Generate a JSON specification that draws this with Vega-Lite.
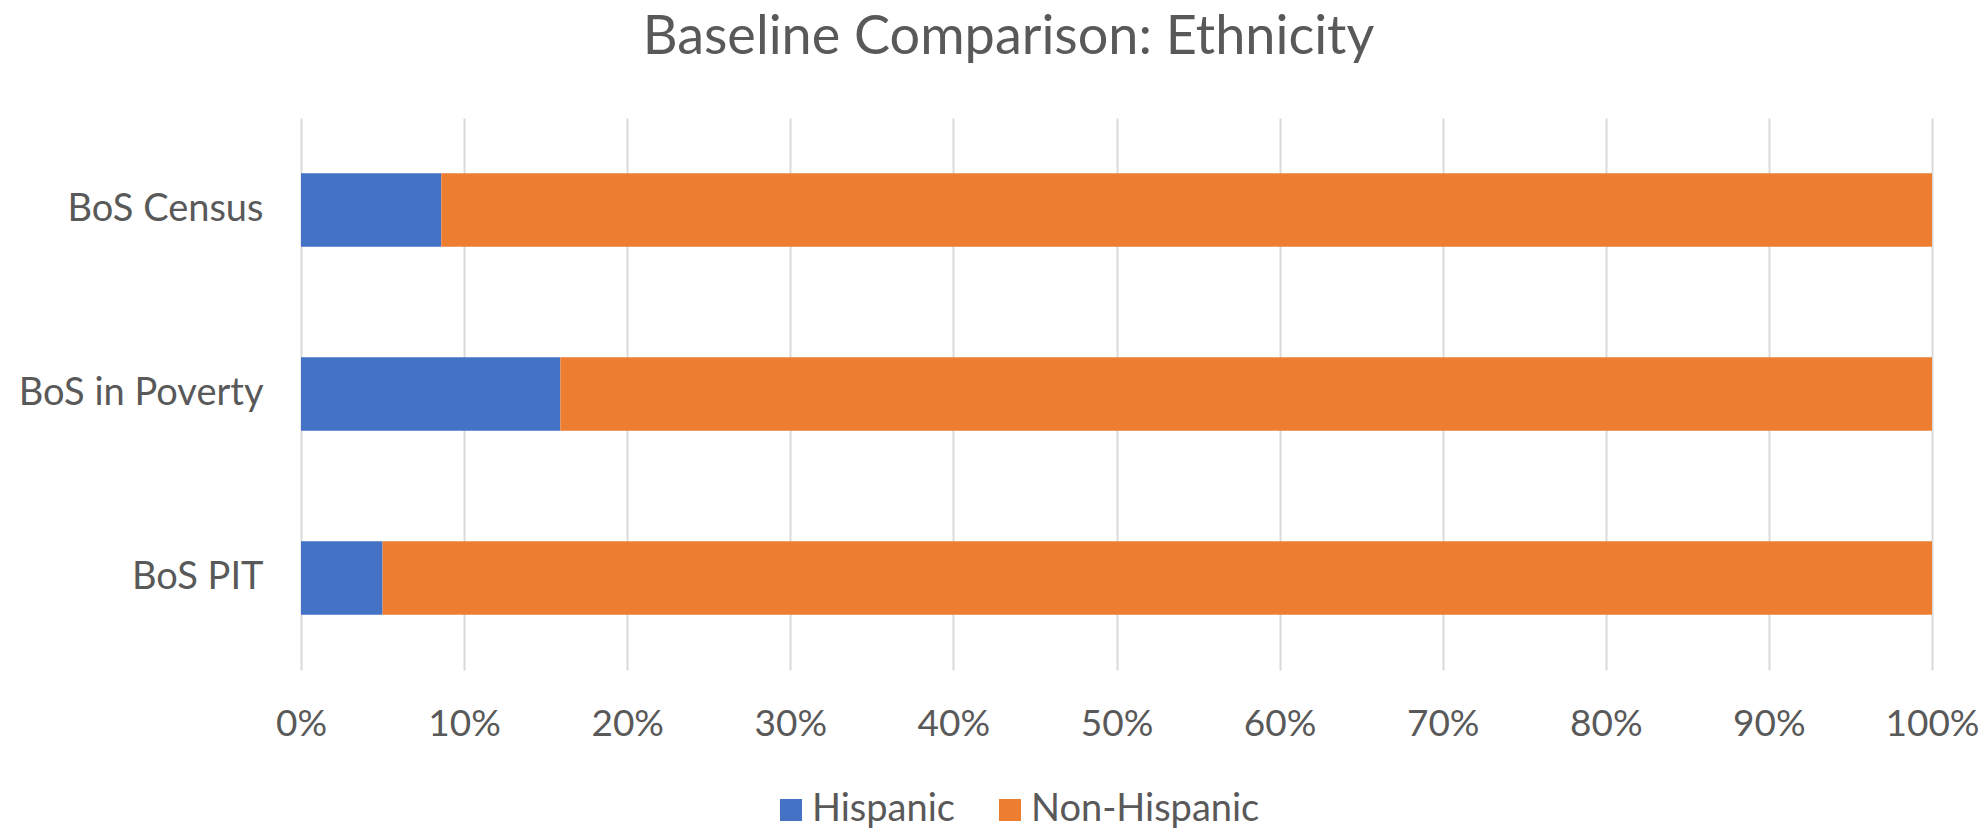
{
  "$schema": "https://vega.github.io/schema/vega-lite/v6.json",
  "autosize": "none",
  "width": 1631,
  "height": 552,
  "padding": {"left": 301, "top": 118, "right": 56, "bottom": 161},
  "background": "white",
  "title": {
    "text": "Baseline Comparison: Ethnicity",
    "font": "Lato",
    "fontSize": 54,
    "fontWeight": "normal",
    "color": "#595959",
    "anchor": "middle",
    "baseline": "alphabetic",
    "offset": 10,
    "dx": -108
  },
  "data": {
    "values": [
      {"group": "BoS Census", "ethnicity": "Hispanic", "share": 0.086},
      {"group": "BoS Census", "ethnicity": "Non-Hispanic", "share": 0.914},
      {"group": "BoS in Poverty", "ethnicity": "Hispanic", "share": 0.159},
      {"group": "BoS in Poverty", "ethnicity": "Non-Hispanic", "share": 0.841},
      {"group": "BoS PIT", "ethnicity": "Hispanic", "share": 0.05},
      {"group": "BoS PIT", "ethnicity": "Non-Hispanic", "share": 0.95}
    ]
  },
  "mark": {"type": "bar"},
  "encoding": {
    "y": {
      "field": "group",
      "type": "nominal",
      "sort": null,
      "scale": {"paddingInner": 0.6, "paddingOuter": 0.3},
      "axis": {
        "title": null,
        "domain": false,
        "ticks": false,
        "grid": false,
        "labelFont": "Lato",
        "labelFontSize": 38,
        "labelColor": "#595959",
        "labelPadding": 38,
        "labelLimit": 0
      }
    },
    "x": {
      "field": "share",
      "type": "quantitative",
      "stack": "zero",
      "scale": {"domain": [0, 1], "nice": false},
      "axis": {
        "title": null,
        "format": ".0%",
        "values": [0, 0.1, 0.2, 0.3, 0.4, 0.5, 0.6, 0.7, 0.8, 0.9, 1],
        "labelOverlap": false,
        "domain": false,
        "ticks": false,
        "grid": true,
        "gridColor": "#d9d9d9",
        "gridWidth": 2,
        "labelFont": "Lato",
        "labelFontSize": 37,
        "labelColor": "#595959",
        "labelPadding": 36,
        "labelFlush": false
      }
    },
    "color": {
      "field": "ethnicity",
      "type": "nominal",
      "scale": {"domain": ["Hispanic", "Non-Hispanic"], "range": ["#4472C4", "#ED7D31"]},
      "legend": {
        "title": null,
        "orient": "none",
        "direction": "horizontal",
        "legendX": 471,
        "legendY": 673,
        "symbolType": "square",
        "symbolSize": 484,
        "symbolStrokeWidth": 0,
        "symbolOpacity": 1,
        "labelFont": "Lato",
        "labelFontSize": 38,
        "labelColor": "#595959",
        "labelOffset": 2,
        "columnPadding": 36,
        "labelLimit": 0
      }
    }
  },
  "config": {
    "view": {"stroke": null}
  }
}
